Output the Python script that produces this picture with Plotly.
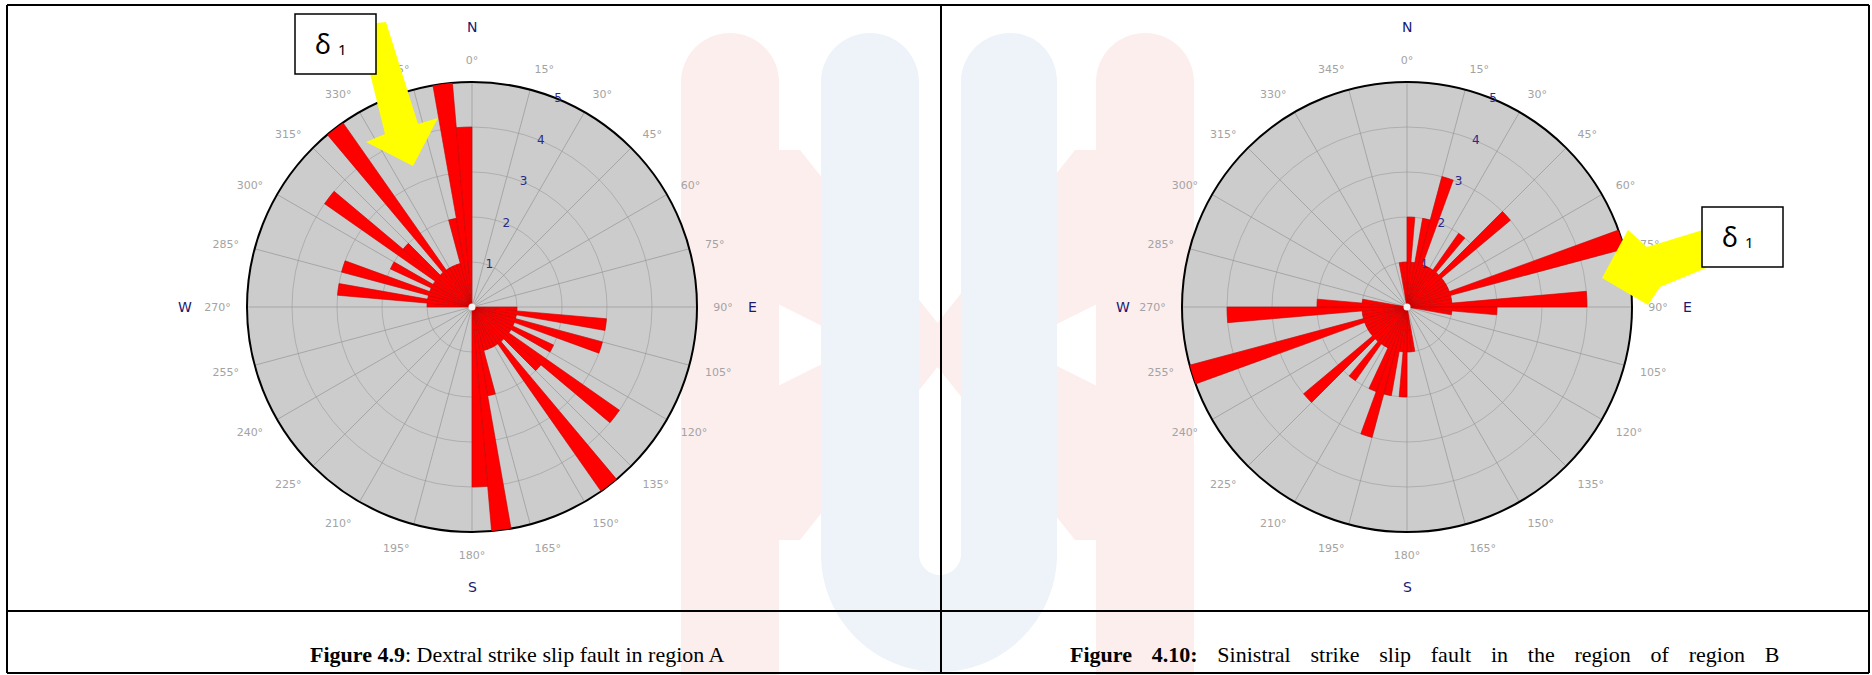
import plotly.graph_objects as go

W, H = 1872, 675

# ---------------- data ----------------
bin_width = 5
ring_labels = ["1", "2", "3", "4", "5"]
ring_values = [1, 2, 3, 4, 5]
label_angle = 22.5

# Region A (dextral) : bin start azimuth -> count
a_start = [90, 95, 100, 105, 110, 115, 120, 125, 130, 135, 140, 145, 150, 155, 160, 165, 170, 175,
           270, 275, 280, 285, 290, 295, 300, 305, 310, 315, 320, 325, 330, 335, 340, 345, 350, 355]
a_count = [1, 3, 1, 3, 1, 2, 1, 4, 2, 1, 5, 1, 1, 1, 1, 2, 5, 4,
           1, 3, 1, 3, 1, 2, 1, 4, 2, 1, 5, 1, 1, 1, 1, 2, 5, 4]

# Region B (sinistral)
b_start = [0, 5, 10, 15, 20, 25, 30, 35, 40, 45, 50, 55, 60, 65, 70, 75, 80, 85, 90, 95,
           170, 175, 180, 185, 190, 195, 200, 205, 210, 215, 220, 225, 230, 235, 240, 245,
           250, 255, 260, 265, 270, 275, 350, 355]
b_count = [2, 1, 2, 3, 1, 1, 1, 2, 1, 3, 1, 1, 1, 1, 5, 1, 1, 4, 2, 1,
           1, 1, 2, 1, 2, 3, 2, 1, 1, 2, 1, 3, 1, 1, 1, 1,
           5, 1, 1, 4, 2, 1, 1, 1]

SP = "\u2002\u2009\u2009"
captions = ["<b>Figure 4.9</b>: Dextral strike slip fault in region A",
            "<b>Figure" + SP + "4.10:</b>" + SP + SP.join("Sinistral strike slip fault in the region of region B".split(" "))]

# ---------------- helpers ----------------
def px(x):
    return x / W

def py(y):
    return 1 - y / H

R = 225
centers = [(472, 307), (1407, 307)]

fig = go.Figure()

for i, (starts, counts) in enumerate([(a_start, a_count), (b_start, b_count)]):
    pname = "polar" if i == 0 else "polar2"
    fig.add_trace(go.Barpolar(
        r=counts, theta=[s + bin_width / 2 for s in starts], width=[bin_width] * len(starts),
        marker=dict(color="#ff0000", line=dict(color="#c80000", width=0.6)),
        subplot=pname, hoverinfo="skip"))
    fig.add_trace(go.Scatterpolar(
        r=[0], theta=[0], mode="markers", marker=dict(color="#f4f4f4", size=7),
        subplot=pname, hoverinfo="skip"))
    fig.add_trace(go.Scatterpolar(
        r=ring_values, theta=[label_angle] * len(ring_values), mode="text",
        text=ring_labels, textfont=dict(family="DejaVu Sans", size=12, color="#2a2a8a"),
        subplot=pname, hoverinfo="skip"))

def polar_layout(cx, cy):
    return dict(
        domain=dict(x=[px(cx - R), px(cx + R)], y=[py(cy + R), py(cy - R)]),
        bgcolor="#cccccc",
        radialaxis=dict(range=[0, 5], tickvals=ring_values, showticklabels=False, ticks="",
                        showline=False, gridcolor="rgba(150,150,150,0.55)", gridwidth=1,
                        layer="above traces"),
        angularaxis=dict(rotation=90, direction="clockwise", tick0=0, dtick=15,
                         thetaunit="degrees",
                         showline=True, linecolor="#000000", linewidth=2,
                         gridcolor="#a6a6a6", gridwidth=1, layer="below traces",
                         ticks="outside", ticklen=13, tickcolor="rgba(0,0,0,0)",
                         tickfont=dict(family="DejaVu Sans", size=11, color="#a3a3a3")),
    )

fig.update_layout(
    width=W, height=H, margin=dict(l=0, r=0, t=0, b=0),
    paper_bgcolor="white", plot_bgcolor="white", showlegend=False,
    polar=polar_layout(*centers[0]), polar2=polar_layout(*centers[1]),
)

shapes = []
# ---- watermark (faint) ----
pink = "#fdeeee"
blue = "#edf3f9"
def pill(x0, x1, y0, y1, color):
    r = (x1 - x0) / 2
    k = 0.5523 * r
    path = (f"M {px(x0)} {py(y1)} L {px(x0)} {py(y0 + r)} "
            f"C {px(x0)} {py(y0 + r - k)} {px(x0 + r - k)} {py(y0)} {px(x0 + r)} {py(y0)} "
            f"C {px(x0 + r + k)} {py(y0)} {px(x1)} {py(y0 + r - k)} {px(x1)} {py(y0 + r)} "
            f"L {px(x1)} {py(y1)} Z")
    return dict(type="path", path=path, fillcolor=color, line=dict(width=0), layer="below")

def poly(points, color, layer="below", line=None):
    p = "M " + " L ".join(f"{px(x)} {py(y)}" for x, y in points) + " Z"
    d = dict(type="path", path=p, fillcolor=color, layer=layer)
    d["line"] = line if line else dict(width=0)
    return d

shapes.append(poly([(730, 150), (800, 150), (955, 345), (800, 540), (730, 540), (730, 410), (860, 345), (730, 280)], pink))
shapes.append(poly([(1145, 150), (1075, 150), (920, 345), (1075, 540), (1145, 540), (1145, 410), (1015, 345), (1145, 280)], pink))
shapes.append(pill(681, 779, 33, 675, pink))
shapes.append(pill(1096, 1194, 33, 675, pink))
# blue U
ux0, ux1, ux2, ux3 = 821, 919, 961, 1057
r_out = (ux3 - ux0) / 2
r_in = (ux2 - ux1) / 2
ra = (ux1 - ux0) / 2
ka = 0.5523 * ra
ko = 0.5523 * r_out
ki = 0.5523 * r_in
ybot_in = 575
ymid = ybot_in - r_in
upath = (
    f"M {px(ux0)} {py(33 + ra)} "
    f"C {px(ux0)} {py(33 + ra - ka)} {px(ux0 + ra - ka)} {py(33)} {px(ux0 + ra)} {py(33)} "
    f"C {px(ux0 + ra + ka)} {py(33)} {px(ux1)} {py(33 + ra - ka)} {px(ux1)} {py(33 + ra)} "
    f"L {px(ux1)} {py(ymid)} "
    f"C {px(ux1)} {py(ymid + ki)} {px(ux1 + r_in - ki)} {py(ybot_in)} {px(ux1 + r_in)} {py(ybot_in)} "
    f"C {px(ux1 + r_in + ki)} {py(ybot_in)} {px(ux2)} {py(ymid + ki)} {px(ux2)} {py(ymid)} "
    f"L {px(ux2)} {py(33 + ra)} "
    f"C {px(ux2)} {py(33 + ra - ka)} {px(ux2 + ra - ka)} {py(33)} {px(ux2 + ra)} {py(33)} "
    f"C {px(ux2 + ra + ka)} {py(33)} {px(ux3)} {py(33 + ra - ka)} {px(ux3)} {py(33 + ra)} "
    f"L {px(ux3)} {py(ymid)} "
    f"C {px(ux3)} {py(ymid + ko)} {px(ux0 + r_out + ko)} {py(ymid + r_out)} {px(ux0 + r_out)} {py(ymid + r_out)} "
    f"C {px(ux0 + r_out - ko)} {py(ymid + r_out)} {px(ux0)} {py(ymid + ko)} {px(ux0)} {py(ymid)} Z")
shapes.append(dict(type="path", path=upath, fillcolor=blue, line=dict(width=0), layer="below"))

# ---- table lines ----
tl = dict(color="black", width=2)
for (x0, y0, x1, y1) in [(7, 5, 1869, 5), (7, 611, 1869, 611), (7, 673, 1869, 673),
                         (7, 5, 7, 673), (1869, 5, 1869, 673), (941, 5, 941, 673)]:
    shapes.append(dict(type="line", x0=px(x0), y0=py(y0), x1=px(x1), y1=py(y1), line=tl, layer="above"))

# ---- yellow arrows ----
yellow = "#ffff00"
shapes.append(poly([(358, 25), (386, 22), (418, 124), (438, 118), (413, 166), (366, 142), (385, 134)], yellow, layer="above"))
shapes.append(poly([(1602, 278), (1628, 230), (1647, 247), (1706, 229), (1706, 268), (1660, 287), (1648, 305)], yellow, layer="above"))

# ---- delta boxes ----
boxes = [(295, 14, 376, 74), (1702, 207, 1783, 267)]
for (x0, y0, x1, y1) in boxes:
    shapes.append(dict(type="rect", x0=px(x0), y0=py(y0), x1=px(x1), y1=py(y1),
                       fillcolor="white", line=dict(color="black", width=1.5), layer="above"))

def ann(x, y, text, font, xanchor="center"):
    return dict(x=px(x), y=py(y), xref="paper", yref="paper", text=text, showarrow=False,
                xanchor=xanchor, yanchor="middle", font=font)

annotations = []
for (x0, y0, x1, y1) in boxes:
    annotations.append(ann(x0 + 28, y0 + 29, "δ", dict(family="Noto Sans", size=27, color="black")))
    annotations.append(ann(x0 + 47, y0 + 35, "1", dict(family="Noto Sans", size=15, color="black")))

# compass letters
navy = "#1a1a70"
for (cx, cy), wdx in zip(centers, [-287, -284]):
    for t, dx, dy in [("N", 0, -280), ("S", 0, 280), ("W", wdx, 0), ("E", 280, 0)]:
        annotations.append(ann(cx + dx, cy + dy, t, dict(family="DejaVu Sans", size=14, color=navy)))

# captions
annotations.append(ann(308, 654, captions[0], dict(family="Liberation Serif", size=22, color="black"), "left"))
annotations.append(ann(1068, 654, captions[1], dict(family="Liberation Serif", size=22, color="black"), "left"))

fig.update_layout(shapes=shapes, annotations=annotations)
fig.write_html("out.html", config={"displayModeBar": False},
               post_script="document.body.style.margin='0px';document.body.style.padding='0px';")
